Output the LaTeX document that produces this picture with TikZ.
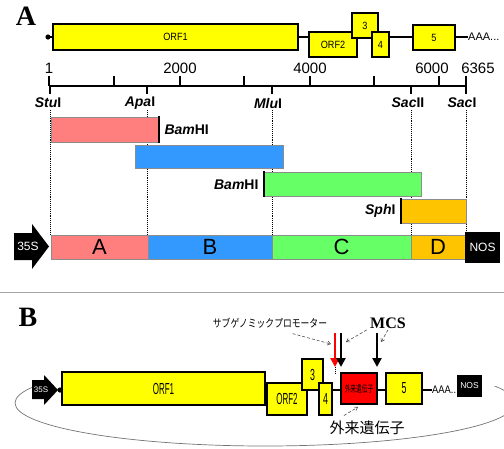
\documentclass[tikz,border=0pt]{standalone}
\usepackage{fontspec}
\usepackage{graphicx}
\setmainfont{Liberation Sans}
\newfontfamily\panelfont{Liberation Serif}
\newfontfamily\jpfont{Noto Sans CJK JP}
\usetikzlibrary{arrows.meta}

\definecolor{orfyellow}{HTML}{FFFF00}
\definecolor{fragred}{HTML}{FF7F7F}
\definecolor{fragblue}{HTML}{3399FF}
\definecolor{fraggreen}{HTML}{66FF66}
\definecolor{fragorange}{HTML}{FFC400}
\definecolor{foreign}{HTML}{FF0000}

\newcommand{\squeeze}[2]{\scalebox{#1}[1]{#2}}
\newcommand{\enz}[2]{\textit{#1}#2}

\tikzset{
  panel/.style={font=\panelfont\fontsize{28}{28}\selectfont\bfseries},
  orfA/.style={draw=black,line width=1.5pt,fill=orfyellow},
  orfB/.style={draw=black,line width=1.6pt,fill=orfyellow},
  orflabA/.style={font=\fontsize{10.5}{10.5}\selectfont},
  orflabB/.style={font=\fontsize{16}{16}\selectfont},
  backbone/.style={line width=1.5pt},
  ticklab/.style={font=\fontsize{15}{15}\selectfont},
  sitelab/.style={font=\fontsize{14}{14}\selectfont\bfseries},
  guide/.style={densely dotted,line width=0.9pt},
  frag/.style={draw=black!45,line width=0.6pt},
  cutend/.style={line width=2.6pt},
  seglab/.style={font=\fontsize{22}{22}\selectfont},
  boxlab/.style={text=white,font=\fontsize{12}{12}\selectfont},
  siteArrow/.style={line width=2.4pt,-{Triangle[length=9pt,width=9pt]}},
  pointer/.style={densely dashed,line width=0.6pt,black!70,-{Straight Barb[length=3pt,width=4pt]}},
}

\begin{document}
\begin{tikzpicture}[x=1pt,y=-1pt]
\useasboundingbox (0,0) rectangle (504,448);

% ---------- panel A ----------
\node[panel] (labA) at (26,16) {A};

% genome map
\coordinate (capA) at (48,37);
\node[anchor=west,inner sep=0pt,font=\fontsize{11}{11}\selectfont] (tailA) at (468,37) {AAA...};
\draw[backbone] (capA) -- (tailA.west);
\fill (capA) circle (2.6);
\filldraw[orfA] (53,24) rectangle (298,50) node[midway,orflabA] (orf1A) {\squeeze{0.87}{ORF1}};
\filldraw[orfA] (309,32) rectangle (357,57) node[midway,orflabA] (orf2A) {\squeeze{0.87}{ORF2}};
\filldraw[orfA] (352,13) rectangle (378,38) node[midway,orflabA] (orf3A) {\squeeze{0.87}{3}};
\filldraw[orfA] (372,32) rectangle (389,57) node[midway,orflabA] (orf4A) {\squeeze{0.87}{4}};
\filldraw[orfA] (413,25) rectangle (455,50) node[midway,orflabA] (orf5A) {\squeeze{0.87}{5}};

% scale
\coordinate (axL) at (49,86);
\coordinate (axR) at (466,86);
\draw[line width=1.3pt] (axL) -- (axR);
\foreach \x in {49,114,180,244,310,374,439,466}
{
\draw[line width=1.3pt] (\x,76) -- (\x,86);
}
\foreach \x/\lab in {49/1,180/2000,310/4000,432/6000,478/6365}
{
\node[ticklab] (tick\lab) at (\x,68) {\lab};
}

% restriction sites
\foreach \x/\lx/\nm/\rn in {50/48/Stu/I,147/140/Apa/I,272/268/Mlu/I,411/408/Sac/II,466/462/Sac/I}
{
\draw[line width=1.3pt] (\x,86) -- (\x,94);
\node[sitelab] (site\nm\rn) at (\lx,103) {\enz{\nm}{\rn}};
\draw[guide] (\x,110) -- (\x,235);
}

% cloned fragments
\filldraw[frag,fill=fragred] (51,117) rectangle (159,142);
\draw[cutend] (159,116) coordinate (bamA) -- (159,143);
\node[sitelab,anchor=west] (bamlabA) at (161,130) {\enz{Bam}{HI}};
\filldraw[frag,fill=fragblue] (135,145) rectangle (283,168);
\filldraw[frag,fill=fraggreen] (264,172) rectangle (421,196);
\draw[cutend] (264,171) coordinate (bamC) -- (264,197);
\node[sitelab,anchor=east] (bamlabC) at (262,185) {\enz{Bam}{HI}};
\filldraw[frag,fill=fragorange] (401,199) rectangle (466,223);
\draw[cutend] (401,198) coordinate (sphD) -- (401,224);
\node[sitelab,anchor=east] (sphlab) at (399,211) {\enz{Sph}{I}};

% assembled construct
\fill (14,233) -- (32,233) -- (32,224) -- (49,246.5) -- (32,269) -- (32,260) -- (14,260) -- cycle;
\node[boxlab] (promA) at (28,246.5) {35S};
\filldraw[frag,fill=fragred] (51,235) rectangle (148,259) node[midway,seglab] (segA) {A};
\filldraw[frag,fill=fragblue] (148,235) rectangle (272,259) node[midway,seglab] (segB) {B};
\filldraw[frag,fill=fraggreen] (272,235) rectangle (411,259) node[midway,seglab] (segC) {C};
\filldraw[frag,fill=fragorange] (411,235) rectangle (465,259) node[midway,seglab] (segD) {D};
\fill (465,232) rectangle (500,263) node[midway,boxlab] (nosA) {NOS};

% separator
\draw[black!35,line width=1pt] (0,292) -- (504,292);

% ---------- panel B ----------
\node[panel] (labB) at (28,317) {B};

% circular vector
\begin{scope}
\clip (0,386) rectangle (504,448);
\draw[black!55,line width=0.7pt] (265,403) ellipse [x radius=250, y radius=43];
\end{scope}

\coordinate (capB) at (60,390);
\node[anchor=west,inner sep=0pt,font=\fontsize{11}{11}\selectfont] (tailB) at (432,390) {\squeeze{0.85}{AAA..}};
\draw[backbone] (capB) -- (tailB.west);
\fill (32,380) -- (44,380) -- (44,375) -- (58,390) -- (44,405) -- (44,399) -- (32,399) -- cycle;
\node[boxlab,font=\fontsize{8}{8}\selectfont] (promB) at (41,390) {35S};
\fill (capB) circle (2.6);
\filldraw[orfB] (62,372) rectangle (265,405) node[midway,orflabB] (orf1B) {\squeeze{0.5}{ORF1}};
\filldraw[orfB] (267,383) rectangle (307,415) node[midway,orflabB] (orf2B) {\squeeze{0.5}{ORF2}};
\filldraw[orfB] (302,359) rectangle (323,390) node[midway,orflabB] (orf3B) {\squeeze{0.55}{3}};
\filldraw[orfB] (319,383) rectangle (332,415) node[midway,orflabB] (orf4B) {\squeeze{0.55}{4}};
\filldraw[orfB,fill=foreign] (341,373) rectangle (377,404) node[midway,font=\jpfont\fontsize{9.5}{9.5}\selectfont] (fgene) {\squeeze{0.6}{外来遺伝子}};
\filldraw[orfB] (386,373) rectangle (422,404) node[midway,orflabB] (orf5B) {\squeeze{0.55}{5}};
\fill (457,375) rectangle (482,397) node[midway,boxlab,font=\fontsize{8.5}{8.5}\selectfont] (nosB) {NOS};

% promoter and cloning sites
\coordinate (sgpTop) at (335,333);
\coordinate (sgpEnd) at (335,367);
\coordinate (mcsOne) at (341,333);
\coordinate (mcsTwo) at (377,333);
\draw[siteArrow,red] (sgpTop) -- (sgpEnd);
\draw[densely dotted,line width=0.9pt] (sgpEnd) -- (335,374);
\draw[siteArrow] (mcsOne) -- (341,367);
\draw[siteArrow] (mcsTwo) -- (377,367);

\node[font=\jpfont\fontsize{11}{11}\selectfont] (sgplab) at (270,323) {\squeeze{0.8}{サブゲノミックプロモーター}};
\node[font=\panelfont\fontsize{16}{16}\selectfont\bfseries] (mcslab) at (388,323) {MCS};
\node[font=\jpfont\fontsize{15}{15}\selectfont] (fglab) at (367,428) {外来遺伝子};

\draw[pointer] (sgplab.south east) ++(-38,2) -- (331,344);
\draw[pointer] (mcslab.south west) ++(0,-2) -- (346,342);
\draw[pointer] (mcslab.south) ++(0,-2) -- (381,342);
\draw[pointer] (fglab.north west) ++(18,-2) -- (358,407);
\end{tikzpicture}
\end{document}
